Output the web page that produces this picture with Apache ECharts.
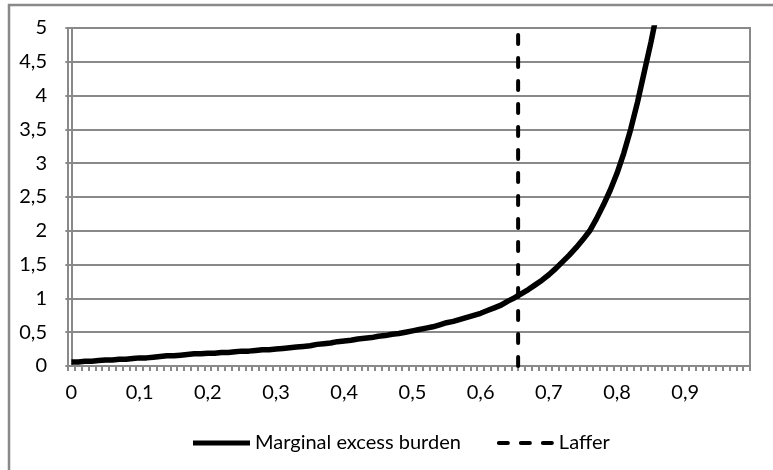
<!DOCTYPE html>
<html>
<head>
<meta charset="utf-8">
<script src="https://cdn.jsdelivr.net/npm/echarts@6/dist/echarts.min.js"></script>
<style>
  html, body { margin: 0; padding: 0; background: #fff; }
  #chart { width: 773px; height: 470px; }
</style>
</head>
<body>
<div id="chart"></div>
<script>
// tax rate categories 0 .. 0,99
const taxRates = Array.from({ length: 100 }, (_, i) => i / 100)
const taxLabels = taxRates.map((t) => String(t).replace('.', ','))

// marginal excess burden (0 .. 0,86)
const burden = [
  0.06, 0.06, 0.07, 0.07, 0.08, 0.09, 0.09, 0.10, 0.10, 0.11,
  0.12, 0.12, 0.13, 0.14, 0.15, 0.15, 0.16, 0.17, 0.18, 0.18,
  0.19, 0.19, 0.20, 0.20, 0.21, 0.22, 0.22, 0.23, 0.24, 0.24,
  0.25, 0.26, 0.27, 0.28, 0.29, 0.30, 0.32, 0.33, 0.34, 0.36,
  0.37, 0.38, 0.40, 0.41, 0.42, 0.44, 0.45, 0.47, 0.48, 0.50,
  0.52, 0.54, 0.56, 0.58, 0.61, 0.64, 0.66, 0.69, 0.72, 0.75,
  0.78, 0.82, 0.86, 0.90, 0.96, 1.01, 1.07, 1.13, 1.20, 1.27,
  1.35, 1.44, 1.54, 1.64, 1.75, 1.87, 2.00, 2.18, 2.38, 2.60,
  2.85, 3.15, 3.50, 3.90, 4.35, 4.80, 5.30,
]

// Laffer peak (vertical dashed line)
const lafferRate = 0.655
const lafferRange = [0, 5]

const grey = '#898989'
const font = 'Lato'

// legend icons: solid thick line / dashed line
const solidIcon = 'path://M0,0h57v5h-57z'
const dashIcon = 'path://M2,0h9a2,2 0 0 1 0,4h-9a2,2 0 0 1 0,-4z M24,0h9a2,2 0 0 1 0,4h-9a2,2 0 0 1 0,-4z M46,0h9a2,2 0 0 1 0,4h-9a2,2 0 0 1 0,-4z'

const chart = echarts.init(document.getElementById('chart'))
chart.setOption({
  animation: false,
  graphic: [
    {
      type: 'rect',
      shape: { x: 9, y: 5, width: 800, height: 500 },
      style: { fill: 'transparent', stroke: grey, lineWidth: 2.5 },
    },
  ],
  grid: {
    left: 68,
    right: 23,
    top: 28,
    bottom: 104,
    show: true,
    borderColor: grey,
    borderWidth: 2,
  },
  legend: {
    left: 188,
    top: 428,
    itemWidth: 57,
    itemHeight: 20,
    itemGap: 36,
    textStyle: { fontFamily: font, fontSize: 20, color: '#000' },
    data: [
      { name: 'Marginal excess burden', icon: solidIcon },
      { name: 'Laffer', icon: dashIcon },
    ],
  },
  xAxis: [
    {
      type: 'category',
      data: taxLabels,
      boundaryGap: true,
      axisLine: { lineStyle: { color: grey, width: 2 } },
      axisTick: { show: true, interval: 0, length: 5, lineStyle: { color: grey, width: 2 } },
      axisLabel: { interval: 9, margin: 17, color: '#000', fontFamily: font, fontSize: 20 },
      splitLine: { show: false },
    },
    {
      type: 'value',
      min: -0.005,
      max: 0.995,
      show: false,
    },
  ],
  yAxis: {
    type: 'value',
    min: 0,
    max: 5,
    interval: 0.5,
    axisLine: { show: true, lineStyle: { color: grey, width: 2 } },
    axisTick: { show: true, length: 6, lineStyle: { color: grey, width: 2 } },
    axisLabel: {
      margin: 21,
      color: '#000',
      fontFamily: font,
      fontSize: 20,
      formatter: (v) => String(v).replace('.', ','),
    },
    splitLine: { lineStyle: { color: grey, width: 2 } },
  },
  series: [
    {
      name: 'Marginal excess burden',
      type: 'line',
      data: burden,
      symbol: 'none',
      lineStyle: { color: '#000', width: 5.5 },
      itemStyle: { color: '#000' },
    },
    {
      name: 'Laffer',
      type: 'line',
      xAxisIndex: 1,
      data: lafferRange.map((y) => [lafferRate, y]),
      symbol: 'none',
      lineStyle: { color: '#000', width: 4, type: [9, 14], cap: 'round' },
      itemStyle: { color: '#000' },
    },
  ],
})
</script>
</body>
</html>
